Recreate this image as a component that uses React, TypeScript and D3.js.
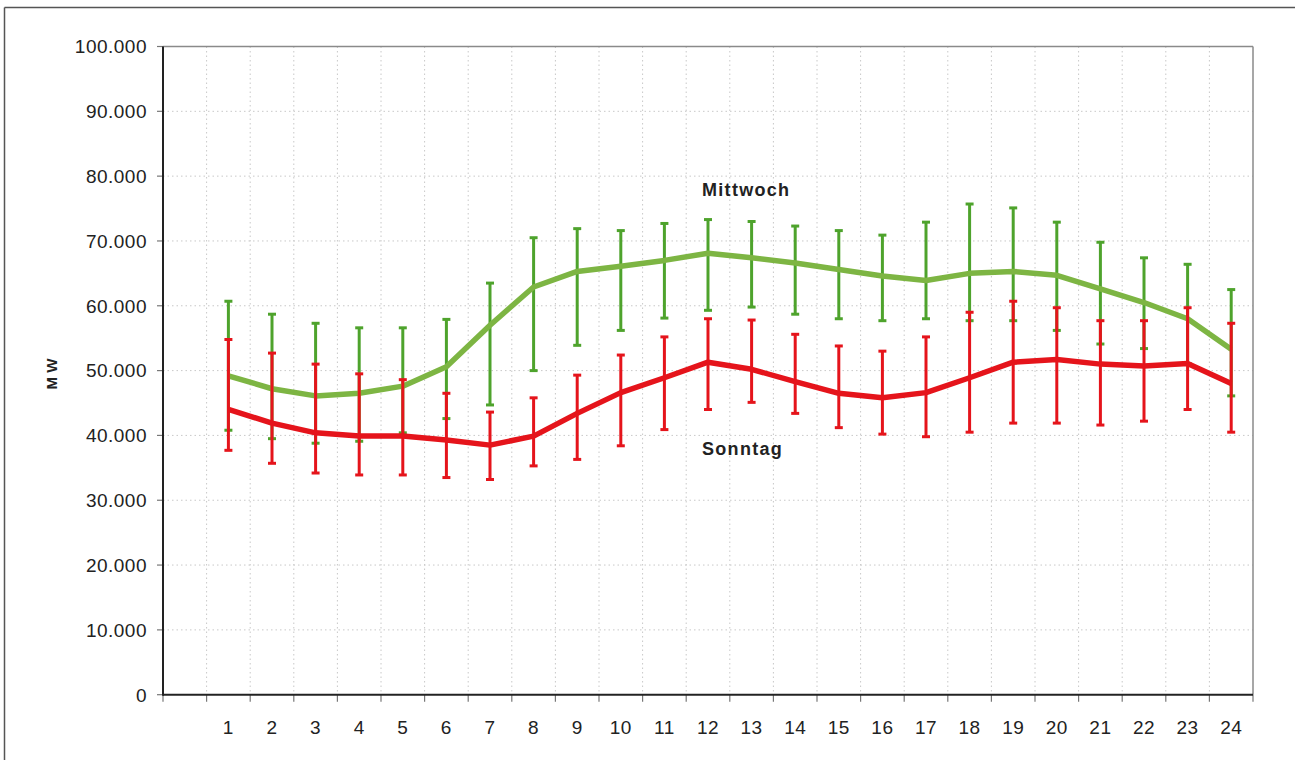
import React from "react";
import * as d3 from "d3";

const hours = ["1","2","3","4","5","6","7","8","9","10","11","12","13","14","15","16","17","18","19","20","21","22","23","24"];
const categories = ["", ...hours];

const mittwochMean = [49.2,47.2,46.1,46.5,47.6,50.6,57.0,62.9,65.3,66.1,67.0,68.1,67.4,66.6,65.6,64.6,63.9,65.0,65.3,64.7,62.6,60.5,58.0,53.3];
const mittwochHigh = [60.7,58.7,57.3,56.6,56.6,57.9,63.5,70.5,71.9,71.6,72.7,73.3,73.0,72.3,71.6,70.9,72.9,75.7,75.1,72.9,69.8,67.4,66.4,62.5];
const mittwochLow = [40.8,39.5,38.8,39.1,40.4,42.6,44.7,50.0,53.9,56.2,58.1,59.3,59.8,58.7,58.0,57.7,58.0,57.7,57.7,56.2,54.1,53.4,51.1,46.1];

const sonntagMean = [44.0,41.9,40.4,39.9,39.9,39.3,38.5,39.9,43.4,46.6,48.9,51.3,50.2,48.3,46.5,45.8,46.6,48.9,51.3,51.7,51.0,50.7,51.1,48.0];
const sonntagHigh = [54.8,52.7,51.0,49.5,48.6,46.5,43.6,45.8,49.3,52.4,55.2,58.0,57.8,55.6,53.8,53.0,55.2,59.0,60.7,59.7,57.7,57.7,59.7,57.3];
const sonntagLow = [37.7,35.7,34.2,33.9,33.9,33.5,33.2,35.3,36.3,38.4,40.9,44.0,45.1,43.4,41.2,40.2,39.8,40.5,41.9,41.9,41.6,42.2,44.0,40.5];

const yTicks = [0,10000,20000,30000,40000,50000,60000,70000,80000,90000,100000];

const W = 1295, H = 760;
const L = 163, R = 1253, T = 46.5, B = 694.7;
const FONT = "'Liberation Sans', Arial, sans-serif";

const fmt = (v: number) => {
  if (v === 0) return "0";
  const s = String(v);
  return s.slice(0, s.length - 3) + "." + s.slice(s.length - 3);
};

export default function App() {
  const x = d3.scaleBand<string>().domain(categories).range([L, R]).padding(0);
  const y = d3.scaleLinear().domain([0, 100000]).range([B, T]);
  const cx = (i: number) => (x(hours[i]) as number) + x.bandwidth() / 2;
  const line = d3.line<number>().x((_, i) => cx(i)).y((d) => y(d * 1000));

  const boundaries = categories.map((c) => x(c) as number).concat([R]);

  const series = [
    { mean: mittwochMean, hi: mittwochHigh, lo: mittwochLow, lineColor: "#7db543", barColor: "#4ea32c" },
    { mean: sonntagMean, hi: sonntagHigh, lo: sonntagLow, lineColor: "#e5141b", barColor: "#e5141b" },
  ];
  const capW = 8;

  return (
    <svg width={W} height={H} style={{ position: "absolute", left: 0, top: 0, background: "#fff" }} fontFamily={FONT}>
      {/* outer frame */}
      <line x1={4.5} y1={7.5} x2={W} y2={7.5} stroke="#555" strokeWidth={1.5} />
      <line x1={4.5} y1={7.5} x2={4.5} y2={H} stroke="#555" strokeWidth={1.5} />

      {/* grid */}
      {yTicks.filter((t) => t > 0 && t < 100000).map((t) => (
        <line key={"gy" + t} x1={L} x2={R} y1={y(t)} y2={y(t)} stroke="#c8c8c8" strokeWidth={1} strokeDasharray="1.5,3" />
      ))}
      {boundaries.slice(1, -1).map((bx, i) => (
        <line key={"gx" + i} x1={bx} x2={bx} y1={T} y2={B} stroke="#c8c8c8" strokeWidth={1} strokeDasharray="1.5,3" />
      ))}

      {/* plot border top/right */}
      <line x1={L} x2={R} y1={T} y2={T} stroke="#8a8a8a" strokeWidth={1.5} />
      <line x1={R} x2={R} y1={T} y2={B} stroke="#8a8a8a" strokeWidth={1.5} />

      {/* y ticks & labels */}
      {yTicks.map((t) => (
        <g key={"yt" + t}>
          <line x1={L - 6} x2={L} y1={y(t)} y2={y(t)} stroke="#777" strokeWidth={1.2} />
          <text x={147} y={y(t)} dy="0.36em" textAnchor="end" fontSize={19} letterSpacing={0.5} fill="#222">{fmt(t)}</text>
        </g>
      ))}

      {/* x ticks & labels */}
      {boundaries.map((bx, i) => (
        <line key={"xt" + i} x1={bx} x2={bx} y1={B} y2={B + 7} stroke="#777" strokeWidth={1.2} />
      ))}
      {hours.map((h, i) => (
        <text key={"xl" + h} x={cx(i)} y={734} textAnchor="middle" fontSize={19} letterSpacing={0.5} fill="#222">{h}</text>
      ))}

      {/* axes */}
      <line x1={L} x2={L} y1={T} y2={B + 1} stroke="#222" strokeWidth={2} />
      <line x1={L} x2={R} y1={B} y2={B} stroke="#222" strokeWidth={2} />

      {/* series */}
      {series.map((s, si) => (
        <g key={"s" + si}>
          {s.mean.map((_, i) => (
            <g key={"eb" + i} stroke={s.barColor} strokeWidth={3}>
              <line x1={cx(i)} x2={cx(i)} y1={y(s.hi[i] * 1000)} y2={y(s.lo[i] * 1000)} />
              <line x1={cx(i) - capW / 2} x2={cx(i) + capW / 2} y1={y(s.hi[i] * 1000)} y2={y(s.hi[i] * 1000)} />
              <line x1={cx(i) - capW / 2} x2={cx(i) + capW / 2} y1={y(s.lo[i] * 1000)} y2={y(s.lo[i] * 1000)} />
            </g>
          ))}
          <path d={line(s.mean) as string} fill="none" stroke={s.lineColor} strokeWidth={5.5} strokeLinejoin="round" />
        </g>
      ))}

      {/* series labels */}
      <text x={702} y={196} fontSize={18} fontWeight="bold" letterSpacing={1.3} fill="#222">Mittwoch</text>
      <text x={702} y={455} fontSize={18} fontWeight="bold" letterSpacing={1.3} fill="#222">Sonntag</text>

      {/* y axis title */}
      <text transform="translate(57,374) rotate(-90)" textAnchor="middle" fontSize={15} fontWeight="bold" fill="#222">M W</text>
    </svg>
  );
}
